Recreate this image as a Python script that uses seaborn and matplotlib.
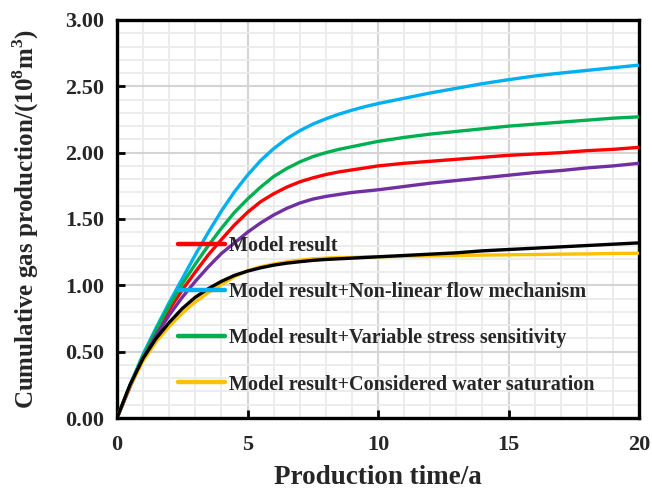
import numpy as np
import pandas as pd
import matplotlib
matplotlib.use("Agg")
import matplotlib.pyplot as plt
from matplotlib.ticker import MultipleLocator, FormatStrFormatter
from matplotlib.lines import Line2D
import seaborn as sns

# Production time (years)
time_a = [0, 0.5, 1, 1.5, 2, 2.5, 3, 3.5, 4, 4.5, 5, 5.5, 6, 6.5, 7, 7.5, 8, 8.5, 9, 9.5,
          10, 11, 12, 13, 14, 15, 16, 17, 18, 19, 20]

# Cumulative gas production (10^8 m^3)
model_result = [0, 0.24, 0.46, 0.65, 0.815, 0.965, 1.10, 1.23, 1.345, 1.455, 1.55, 1.63, 1.69,
                1.74, 1.78, 1.81, 1.835, 1.855, 1.87, 1.885, 1.90, 1.92, 1.935, 1.95, 1.965,
                1.98, 1.99, 2.00, 2.015, 2.025, 2.04]
non_linear_flow = [0, 0.25, 0.48, 0.68, 0.87, 1.05, 1.23, 1.40, 1.56, 1.705, 1.83, 1.94, 2.03,
                   2.105, 2.165, 2.215, 2.255, 2.29, 2.32, 2.347, 2.37, 2.41, 2.45, 2.485, 2.52,
                   2.55, 2.578, 2.60, 2.62, 2.64, 2.66]
stress_sensitivity = [0, 0.245, 0.47, 0.665, 0.845, 1.01, 1.16, 1.30, 1.43, 1.55, 1.65, 1.74,
                      1.82, 1.88, 1.93, 1.97, 2.00, 2.025, 2.045, 2.065, 2.085, 2.115, 2.14, 2.16,
                      2.18, 2.20, 2.215, 2.23, 2.245, 2.26, 2.27]
water_saturation = [0, 0.24, 0.43, 0.575, 0.69, 0.79, 0.875, 0.945, 1.005, 1.065, 1.11, 1.14,
                    1.16, 1.177, 1.19, 1.20, 1.205, 1.21, 1.21, 1.215, 1.215, 1.22, 1.222, 1.225,
                    1.228, 1.23, 1.232, 1.235, 1.237, 1.24, 1.242]
purple_series = [0, 0.235, 0.45, 0.625, 0.775, 0.91, 1.03, 1.14, 1.24, 1.32, 1.40, 1.47, 1.53,
                 1.58, 1.62, 1.65, 1.67, 1.685, 1.70, 1.71, 1.72, 1.745, 1.77, 1.79, 1.81,
                 1.83, 1.85, 1.865, 1.885, 1.90, 1.92]
black_series = [0, 0.25, 0.45, 0.60, 0.72, 0.825, 0.91, 0.975, 1.03, 1.075, 1.107, 1.132, 1.152,
                1.167, 1.178, 1.188, 1.195, 1.20, 1.205, 1.21, 1.215, 1.225, 1.235, 1.245, 1.26,
                1.27, 1.28, 1.29, 1.30, 1.31, 1.32]

legend_labels = [
    "Model result",
    "Model result+Non-linear flow mechanism",
    "Model result+Variable stress sensitivity",
    "Model result+Considered water saturation",
]

sns.set_theme(style="white")
plt.rcParams["font.family"] = ["Liberation Serif", "DejaVu Serif"]
plt.rcParams["font.weight"] = "bold"
plt.rcParams["mathtext.fontset"] = "custom"
plt.rcParams["mathtext.rm"] = "Liberation Serif:bold"
plt.rcParams["mathtext.bf"] = "Liberation Serif:bold"

fig = plt.figure(figsize=(6.52, 5.0), dpi=100)
ax = fig.add_axes([117 / 652, 1 - 418 / 500, (639 - 117) / 652, (418 - 20) / 500])

series = [
    ("Model result", model_result, "#FF0000"),
    ("Non-linear", non_linear_flow, "#00B0F0"),
    ("Stress", stress_sensitivity, "#00B050"),
    ("Purple", purple_series, "#7030A0"),
    ("Water", water_saturation, "#FFC000"),
    ("Black", black_series, "#000000"),
]
for name, vals, color in series:
    df = pd.DataFrame({"t": time_a, "q": vals})
    sns.lineplot(data=df, x="t", y="q", ax=ax, color=color, linewidth=2.4,
                 legend=False, zorder=3, solid_joinstyle="round", solid_capstyle="round")

ax.set_xlim(0, 20)
ax.set_ylim(0, 3)
ax.xaxis.set_major_locator(MultipleLocator(5))
ax.xaxis.set_minor_locator(MultipleLocator(1))
ax.yaxis.set_major_locator(MultipleLocator(0.5))
ax.yaxis.set_minor_locator(MultipleLocator(0.1))
ax.yaxis.set_major_formatter(FormatStrFormatter("%.2f"))

ax.grid(True, which="major", color="#d4d4d4", linewidth=1.5, zorder=0)
ax.grid(True, which="minor", color="#ebebeb", linewidth=1.3, zorder=0)
ax.set_axisbelow(True)

for sp in ax.spines.values():
    sp.set_visible(True)
    sp.set_color("black")
    sp.set_linewidth(2.4)

ax.tick_params(axis="both", which="major", direction="in", length=6, width=2,
               color="black", labelsize=16, bottom=True, left=True)
ax.tick_params(axis="x", which="major", pad=12)
ax.tick_params(axis="y", which="major", pad=9)
ax.tick_params(axis="both", which="minor", length=0)
for lab in ax.get_xticklabels() + ax.get_yticklabels():
    lab.set_fontweight("bold")

ax.set_xlabel("Production time/a", fontsize=19.5, fontweight="bold", va="center")
ax.xaxis.set_label_coords(0.5, (418 - 477) / 398)
ax.set_ylabel(r"Cumulative gas production/(10$^{8}$m$^{3}$)", fontsize=18,
              fontweight="bold", va="center")
ax.yaxis.set_label_coords((26 - 117) / 522, 0.5)

handles = [
    Line2D([], [], color="#FF0000", linewidth=3.2),
    Line2D([], [], color="#00B0F0", linewidth=3.2),
    Line2D([], [], color="#00B050", linewidth=3.2),
    Line2D([], [], color="#FFC000", linewidth=3.2),
]
leg = ax.legend(handles, legend_labels, loc="upper left",
                bbox_to_anchor=((178 - 117) / 522, (418 - 236) / 398),
                frameon=False, fontsize=14.5, handlelength=2.35, handletextpad=0.18,
                labelspacing=1.3, borderaxespad=0, borderpad=0)
for t in leg.get_texts():
    t.set_fontweight("bold")
leg.set_zorder(5)

fig.savefig("out.png", dpi=100)
